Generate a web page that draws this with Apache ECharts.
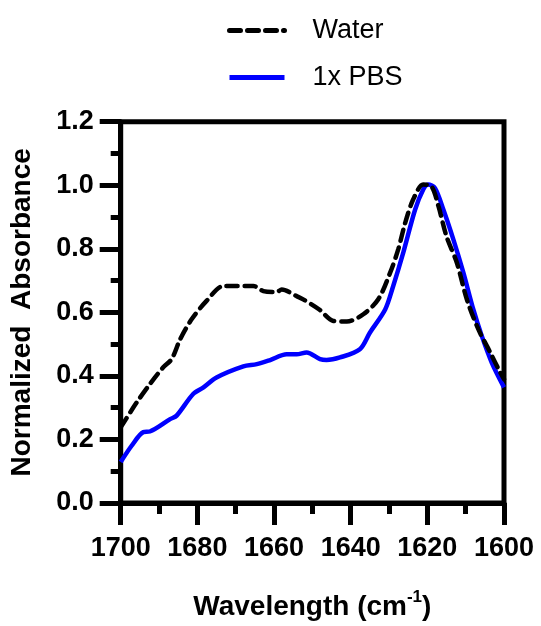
<!DOCTYPE html>
<html>
<head>
<meta charset="utf-8">
<script src="https://cdn.jsdelivr.net/npm/echarts@6/dist/echarts.min.js"></script>
<style>
html,body{margin:0;padding:0;background:#fff;}
#c{width:541px;height:626px;}
</style>
</head>
<body>
<div id="c"></div>
<script>
var seriesNames = ['Water', '1x PBS'];
var waterX = [1700, 1695.8, 1692.4, 1688.9, 1686.7, 1684.5, 1681.5, 1677.6, 1673.2, 1669.7, 1665.4, 1662.8, 1659.3, 1658, 1654.1, 1652.4, 1648.2, 1644.5, 1641, 1636.7, 1632.8, 1629.7, 1627.6, 1625.8, 1623.7, 1621.1, 1618.9, 1617.1, 1615, 1612.3, 1609.7, 1606.7, 1603.6, 1601, 1600];
var waterY = [0.238, 0.317, 0.374, 0.427, 0.453, 0.515, 0.578, 0.636, 0.683, 0.683, 0.683, 0.667, 0.664, 0.672, 0.651, 0.641, 0.609, 0.573, 0.571, 0.594, 0.641, 0.725, 0.798, 0.881, 0.955, 1.002, 0.996, 0.934, 0.839, 0.756, 0.641, 0.547, 0.474, 0.411, 0.39];
var pbsX = [1700, 1697.1, 1694.1, 1692.4, 1687.1, 1685.4, 1681.1, 1678.4, 1675, 1668, 1664.5, 1661, 1656.7, 1654.1, 1651.5, 1648, 1646.3, 1642.8, 1637.6, 1635, 1631, 1628.9, 1626.3, 1623.2, 1621.1, 1619.8, 1618, 1615.8, 1613.2, 1610.6, 1608, 1605.8, 1603.2, 1600];
var pbsY = [0.129, 0.181, 0.223, 0.225, 0.264, 0.275, 0.343, 0.364, 0.395, 0.430, 0.437, 0.450, 0.468, 0.468, 0.474, 0.453, 0.450, 0.458, 0.484, 0.536, 0.609, 0.683, 0.787, 0.923, 0.986, 1.002, 0.991, 0.923, 0.829, 0.725, 0.609, 0.526, 0.442, 0.364];
var xTitle = 'Wavelength (cm';
var xTitleSup = '-1';
var yTitle = 'Normalized  Absorbance';

function pairs(xs, ys) { return xs.map(function (x, i) { return [x, ys[i]]; }); }

var FONT = '"Liberation Sans", Arial, sans-serif';
var chart = echarts.init(document.getElementById('c'), null, {renderer: 'canvas'});
chart.setOption({
  animation: false,
  backgroundColor: '#ffffff',
  legend: {
    orient: 'vertical',
    left: 222,
    top: 12,
    itemWidth: 55,
    itemHeight: 14,
    itemGap: 20,
    itemStyle: {opacity: 0},
    lineStyle: {width: 5},
    textStyle: {fontFamily: FONT, fontSize: 27, color: '#000', lineHeight: 27, padding: [0, 0, 0, 23]},
    data: seriesNames.map(function (n) { return {name: n}; })
  },
  grid: {
    left: 120.7, right: 37, top: 121.7, bottom: 121.7,
    show: true, borderColor: '#000', borderWidth: 5, backgroundColor: 'transparent'
  },
  xAxis: {
    type: 'value', min: 1600, max: 1700, interval: 20, inverse: true,
    name: '{a|' + xTitle + '}{s|' + xTitleSup + '}{a|)}',
    nameLocation: 'middle', nameGap: 86,
    nameTextStyle: {
      rich: {
        a: {fontFamily: FONT, fontSize: 28, fontWeight: 'bold', color: '#000', lineHeight: 32, verticalAlign: 'bottom'},
        s: {fontFamily: FONT, fontSize: 17, fontWeight: 'bold', color: '#000', lineHeight: 17, verticalAlign: 'top'}
      }
    },
    axisLine: {show: true, lineStyle: {color: '#000', width: 5}},
    axisTick: {show: true, length: 22, lineStyle: {color: '#000', width: 5}},
    minorTick: {show: true, splitNumber: 2, length: 11, lineStyle: {color: '#000', width: 5}},
    splitLine: {show: false},
    axisLabel: {fontFamily: FONT, fontSize: 27, fontWeight: 'bold', color: '#000', margin: 32,
      formatter: function (v) { return String(v); }}
  },
  yAxis: {
    type: 'value', min: 0, max: 1.2, interval: 0.2,
    name: yTitle, nameLocation: 'middle', nameGap: 84, nameRotate: 90,
    nameTextStyle: {fontFamily: FONT, fontSize: 28, fontWeight: 'bold', color: '#000'},
    axisLine: {show: true, lineStyle: {color: '#000', width: 5}},
    axisTick: {show: true, length: 21, lineStyle: {color: '#000', width: 5}},
    minorTick: {show: true, splitNumber: 2, length: 10, lineStyle: {color: '#000', width: 5}},
    splitLine: {show: false},
    axisLabel: {fontFamily: FONT, fontSize: 27, fontWeight: 'bold', color: '#000', margin: 27,
      formatter: function (v) { return v.toFixed(1); }}
  },
  series: [
    {
      name: seriesNames[0], type: 'line', data: pairs(waterX, waterY),
      symbol: 'none', smooth: 0.3, z: 3,
      lineStyle: {color: '#000', width: 4.5, type: [11, 7], cap: 'round'},
      itemStyle: {color: '#000'}
    },
    {
      name: seriesNames[1], type: 'line', data: pairs(pbsX, pbsY),
      symbol: 'none', smooth: 0.3, z: 2,
      lineStyle: {color: '#0000ff', width: 4.5},
      itemStyle: {color: '#0000ff'}
    }
  ]
});
</script>
</body>
</html>
